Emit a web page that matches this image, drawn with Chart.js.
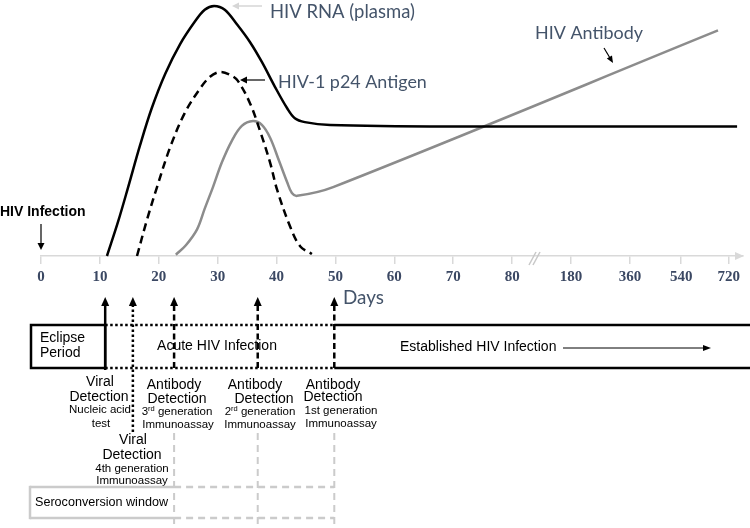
<!DOCTYPE html>
<html><head><meta charset="utf-8">
<script src="https://cdn.jsdelivr.net/npm/chart.js@4/dist/chart.umd.min.js"></script>
<style>html,body{margin:0;padding:0;background:#fff}#wrap{width:750px;height:528px;position:relative}canvas{display:block}</style>
</head><body><div id="wrap"><canvas id="c" width="750" height="528"></canvas></div>
<script>
// ---- tick labels (days) and their positions on the broken axis ----
const tickDays = [0,10,20,30,40,50,60,70,80,180,360,540,720];
const tickPositions = [0,1,2,3,4,5,6,7,8,9,10,10.87,11.68];

// ---- series (day, relative level 0-100) ----
const rnaDays   = [11.2,13.1,14.8,16.8,18.8,21.1,23.6,26.1,27.8,29.4,31.2,33.3,35.5,37.5,39.7,41.8,43.1,44.8,49.1,69.4,751];
const rnaLevels = [0,13.5,26.9,43.1,57.7,71.2,82.7,91.5,96.2,97.7,96.2,90.4,83.5,75.8,66.2,57.7,53.8,52.3,51.2,50.6,50.6];

const p24Days   = [16.3,18.0,19.7,21.9,24.4,27.0,28.7,30.4,32.1,33.4,35.5,37.2,38.9,40.1,42.3,44.0,46.0];
const p24Levels = [0,14.2,26.9,42.3,55.8,65.4,70,71.9,70.8,68.5,59.6,48.8,36.5,25.8,11.5,3.8,0.8];

const abDays    = [22.9,24.6,26.5,27.8,29.2,30.7,32.4,34.1,36.0,37.5,38.9,40.4,41.8,42.6,43.5,49.6,679];
const abLevels  = [0.5,4.2,10.4,18.5,26.9,36.5,45,50.8,52.7,51.2,46.2,37.3,28.8,24.6,23.5,26.9,88.1];

// detection time points (days): NAT, 4th gen, 3rd gen, 2nd gen, 1st gen
const detectionDays = [10.9,15.6,22.6,36.8,49.8];

function dayToPos(d){
  for(let i=0;i<tickDays.length-1;i++){
    if(d<=tickDays[i+1]){
      const t=(d-tickDays[i])/(tickDays[i+1]-tickDays[i]);
      return tickPositions[i]+t*(tickPositions[i+1]-tickPositions[i]);
    }
  }
  const n=tickDays.length-1;
  const s=(tickPositions[n]-tickPositions[n-1])/(tickDays[n]-tickDays[n-1]);
  return tickPositions[n]+(d-tickDays[n])*s;
}
const pts=(ds,vs)=>ds.map((d,i)=>({x:dayToPos(d),y:vs[i]}));

const SANS='"Liberation Sans", Arial, sans-serif';
const CAL='Lato, "Open Sans", sans-serif';
const SLATE='#44546a';

function arrowHead(c,x,y,ang,len,wid,color){
  c.save();c.translate(x,y);c.rotate(ang);c.fillStyle=color;
  c.beginPath();c.moveTo(0,0);c.lineTo(-len,-wid/2);c.lineTo(-len,wid/2);c.closePath();c.fill();c.restore();
}
function line(c,x1,y1,x2,y2,color,w,dash){
  c.save();c.strokeStyle=color;c.lineWidth=w;c.setLineDash(dash||[]);
  c.beginPath();c.moveTo(x1,y1);c.lineTo(x2,y2);c.stroke();c.restore();
}
function txt(c,s,x,y,size,align,color,weight,family){
  c.save();c.font=(weight||'')+' '+size+'px '+(family||SANS);c.fillStyle=color||'#000';
  c.textAlign=align||'center';c.textBaseline='middle';c.fillText(s,x,y);c.restore();
}
function fitTxt(c,s,left,right,y,color,family,weight){
  c.save();c.font=(weight||'')+' 100px '+family;
  const w=c.measureText(s).width;const size=100*(right-left)/w;
  c.font=(weight||'')+' '+size+'px '+family;c.fillStyle=color;c.textAlign='left';c.textBaseline='middle';
  c.fillText(s,left,y);c.restore();
}
function runs(c,parts,cx,y){
  c.save();c.textBaseline='middle';c.fillStyle='#000';
  let tot=0;parts.forEach(p=>{c.font=p[1]+'px '+SANS;tot+=c.measureText(p[0]).width;});
  let x=cx-tot/2;
  parts.forEach(p=>{c.font=p[1]+'px '+SANS;c.textAlign='left';c.fillText(p[0],x,y+p[2]);x+=c.measureText(p[0]).width;});
  c.restore();
}

const annot={
  id:'annot',
  afterDraw(chart){
    const c=chart.ctx, xs=chart.scales.x, ys=chart.scales.y;
    const X=d=>xs.getPixelForValue(dayToPos(d));
    const axisY=ys.getPixelForValue(0);
    const right=chart.chartArea.right;
    // axis arrow + break
    arrowHead(c,right+1,axisY,0,9,8,'#d9d9d9');
    line(c,529,axisY+9,536,axisY-4,'#c8c8c8',1.5);
    line(c,533,axisY+9,540,axisY-4,'#c8c8c8',1.5);

    // top labels
    fitTxt(c,'HIV RNA (plasma)',270,415,12,SLATE,CAL);
    line(c,262,6,238,6,'#d6d6d6',1.5);arrowHead(c,232,6,Math.PI,7,7,'#d6d6d6');
    fitTxt(c,'HIV-1 p24 Antigen',278,427,82,SLATE,CAL);
    line(c,265,80,246,80,'#000',1.2);arrowHead(c,240,80,Math.PI,7,7,'#000');
    fitTxt(c,'HIV Antibody',535,643,33,SLATE,CAL);
    line(c,604,48,610,58,'#000',1.2);arrowHead(c,613,63,Math.atan2(15,9),7,6,'#000');
    fitTxt(c,'Days',343,384,298,SLATE,CAL);

    txt(c,'HIV Infection',0,212,14,'left','#000','bold');
    line(c,X(0),224,X(0),244,'#000',1.2);arrowHead(c,X(0),250,Math.PI/2,7,7,'#000');

    // lower timeline
    const yT=325,yB=368;
    const [xN,x4,x3,x2,x1]=detectionDays.map(X);
    txt(c,'Eclipse',40,338,14,'left');txt(c,'Period',40,353,14,'left');
    txt(c,'Acute HIV Infection',217,346,14);
    txt(c,'Established HIV Infection',400,347,14,'left');
    line(c,563,348,704,348,'#000',1);arrowHead(c,711,348,0,8,6,'#000');

    c.save();c.strokeStyle='#000';c.lineWidth=2.5;c.strokeRect(31,yT,xN-31,yB-yT);c.restore();
    line(c,xN,yT,x1,yT,'#000',2.5,[2.5,2.5]);
    line(c,xN,yB,x1,yB,'#000',2.5,[2.5,2.5]);
    line(c,x1,yT,750,yT,'#000',2.5);
    line(c,x1,yB,750,yB,'#000',2.5);
    line(c,xN,yB+2,xN,305,'#000',2.5);arrowHead(c,xN,297,-Math.PI/2,9,8,'#000');
    line(c,x4,432,x4,305,'#000',2.5,[2.5,2.5]);arrowHead(c,x4,297,-Math.PI/2,9,8,'#000');
    [x3,x2,x1].forEach(x=>{line(c,x,yB,x,305,'#000',2.5,[6,3.5]);arrowHead(c,x,297,-Math.PI/2,9,8,'#000');});

    // detection captions
    txt(c,'Viral',100,382,14);txt(c,'Detection',99,397,14);
    txt(c,'Nucleic acid',100,410,11.5);txt(c,'test',101,424,11.5);
    txt(c,'Antibody',174,385,14);txt(c,'Detection',177,399,14);
    runs(c,[['3',11.5,0],['rd',7.5,-3],[' generation',11.5,0]],177,412);txt(c,'Immunoassay',178,425,11.5);
    txt(c,'Antibody',255,385,14);txt(c,'Detection',264,399,14);
    runs(c,[['2',11.5,0],['rd',7.5,-3],[' generation',11.5,0]],260,412);txt(c,'Immunoassay',260,425,11.5);
    txt(c,'Antibody',333,385,14);txt(c,'Detection',333,397,14);
    txt(c,'1st generation',341,411,11.5);txt(c,'Immunoassay',341,424,11.5);
    txt(c,'Viral',133,440,14);txt(c,'Detection',132,455,14);
    txt(c,'4th generation',132,469,11.5);txt(c,'Immunoassay',132,481,11.5);

    // seroconversion window
    const sT=487,sB=518,G='#cbcbcb';
    line(c,30,sT,x3,sT,G,2.5);line(c,30,sB,x3,sB,G,2.5);line(c,30,sT-1.2,30,sB+1.2,G,2.5);
    line(c,x3,sT,x1,sT,G,2.5,[7,5]);line(c,x3,sB,x1,sB,G,2.5,[7,5]);
    [x3,x2,x1].forEach(x=>line(c,x,433,x,528,G,2,[7,5]));
    txt(c,'Seroconversion window',35,503,12.6,'left');
  }
};

new Chart(document.getElementById('c'),{
  type:'line',
  data:{datasets:[
    {label:'HIV RNA (plasma)',data:pts(rnaDays,rnaLevels),borderColor:'#000',borderWidth:2.5,pointRadius:0,tension:0.35,fill:false},
    {label:'HIV-1 p24 Antigen',data:pts(p24Days,p24Levels),borderColor:'#000',borderWidth:2.5,borderDash:[8,5],pointRadius:0,tension:0.35,fill:false},
    {label:'HIV Antibody',data:pts(abDays,abLevels),borderColor:'#8c8c8c',borderWidth:2.5,pointRadius:0,tension:0.35,fill:false}
  ]},
  options:{
    responsive:false,animation:false,maintainAspectRatio:false,
    layout:{padding:{left:41,right:7,top:0,bottom:238}},
    plugins:{legend:{display:false},tooltip:{enabled:false}},
    datasets:{line:{clip:false}},
    scales:{
      x:{type:'linear',min:0,max:11.92,
        afterBuildTicks:s=>{s.ticks=tickPositions.map(v=>({value:v}));},
        ticks:{autoSkip:false,maxRotation:0,padding:4,color:'#3b4863',font:{family:'"Liberation Serif", "Times New Roman", serif',size:15,weight:'bold'},
          callback:(v,i)=>String(tickDays[i])},
        grid:{drawOnChartArea:false,drawTicks:true,tickLength:8,color:'#d9d9d9',lineWidth:1.5},
        border:{display:true,color:'#d9d9d9',width:1.5}},
      y:{display:false,min:0,max:100}
    }
  },
  plugins:[annot]
});
</script></body></html>
